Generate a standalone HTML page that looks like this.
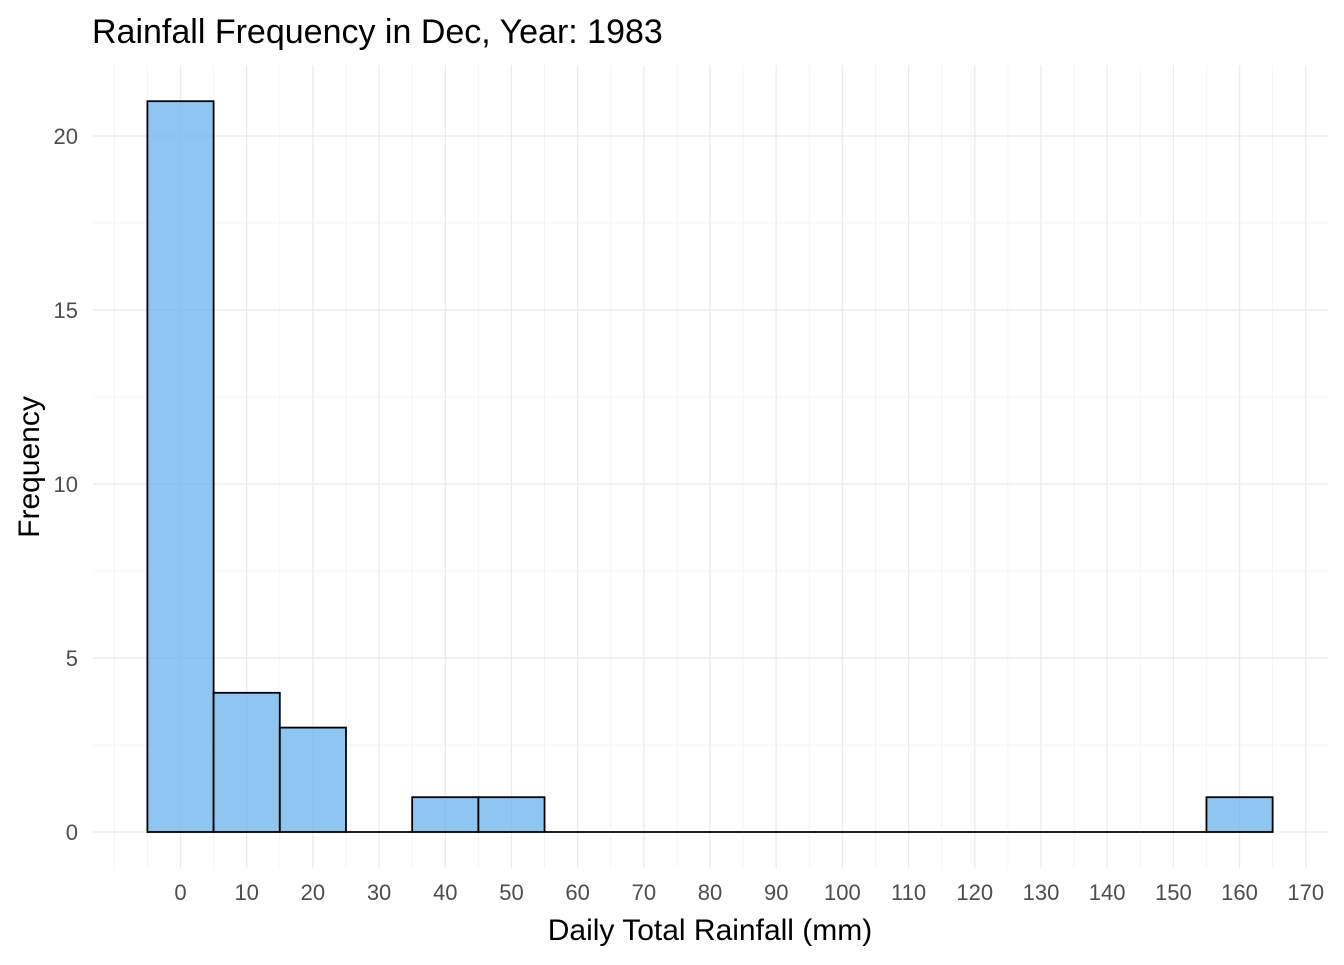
<!DOCTYPE html>
<html><head><meta charset="utf-8"><style>
body{margin:0;background:#fff;}
text{font-family:"Liberation Sans",Arial,sans-serif;}
</style></head><body>
<svg id="chart" width="1344" height="960">
<text x="92" y="43" font-size="34" fill="#000">Rainfall Frequency in Dec, Year: 1983</text>
<g id="grid"></g><g id="bars"></g><g id="xt"></g><g id="yt"></g>
<text x="710" y="940" font-size="30" text-anchor="middle" fill="#000">Daily Total Rainfall (mm)</text>
<text transform="translate(39,467) rotate(-90)" font-size="30" text-anchor="middle" fill="#000">Frequency</text>
</svg>
<script>
const binCenters=[0,10,20,30,40,50,60,70,80,90,100,110,120,130,140,150,160];
const counts=[21,4,3,0,1,1,0,0,0,0,0,0,0,0,0,0,1];
const xTicks=[0,10,20,30,40,50,60,70,80,90,100,110,120,130,140,150,160,170];
const yTicks=[0,5,10,15,20];
const binWidth=10;
const ns="http://www.w3.org/2000/svg";
const X=v=>180.5+v*6.619, Y=v=>832-v*34.8;
const L=93,R=1328,T=65,B=868;
function mk(t,a,p){const e=document.createElementNS(ns,t);for(const k in a)e.setAttribute(k,a[k]);p.appendChild(e);return e;}
const g=document.getElementById('grid');
for(let v=-10;v<=172;v+=5){const x=X(v);if(x<L||x>R)continue;const major=v%10===0&&v>=0;
const l=mk('line',{x1:x,x2:x,y1:T,y2:B,stroke:major?'#ebebeb':'#f3f3f3','stroke-width':major?1.3:0.8},g);
}
for(let v=0;v<=22;v+=2.5){const y=Y(v);const major=v%5===0;
const l=mk('line',{x1:L,x2:R,y1:y,y2:y,stroke:major?'#ebebeb':'#f3f3f3','stroke-width':major?1.3:0.8},g);
}
const b=document.getElementById('bars');
binCenters.forEach((c,i)=>{const x0=X(c-binWidth/2),x1=X(c+binWidth/2),y=Y(counts[i]);
let r;
if(counts[i]>0){r=mk('rect',{x:x0,y:y,width:x1-x0,height:Y(0)-y,fill:'rgba(100,175,235,0.72)',stroke:'#000','stroke-width':1.8},b);}
else{r=mk('line',{x1:x0,x2:x1,y1:Y(0),y2:Y(0),stroke:'#000','stroke-width':1.8},b);}

});
const xt=document.getElementById('xt');
xTicks.forEach(v=>{const t=mk('text',{x:X(v),y:900,'font-size':22,'text-anchor':'middle',fill:'#4d4d4d'},xt);t.textContent=v;

});
const yt=document.getElementById('yt');
yTicks.forEach(v=>{const t=mk('text',{x:78,y:Y(v)+8,'font-size':22,'text-anchor':'end',fill:'#4d4d4d'},yt);t.textContent=v;

});
</script>
</body></html>
